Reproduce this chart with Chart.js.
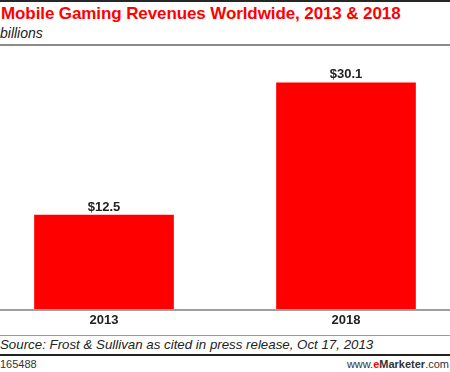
<!DOCTYPE html>
<html>
<head>
<meta charset="utf-8">
<script src="https://cdn.jsdelivr.net/npm/chart.js@4"></script>
<style>
  body { margin: 0; background: #fff; font-family: "Liberation Sans", Arial, sans-serif; }
  #wrap { position: relative; width: 450px; height: 372px; overflow: hidden; background: #fff; }
  .abs { position: absolute; white-space: nowrap; }
  #topRule { left: 0; top: 0; width: 450px; height: 2px; background: #262626; }
  #title { left: 1px; top: 4px; font-size: 17px; font-weight: bold; color: #f00; letter-spacing: -0.1px; }
  #subtitle { left: 0; top: 25px; font-size: 14px; font-style: italic; color: #222; }
  #headRule { left: 0; top: 44px; width: 450px; height: 2px; background: #8c8c8c; }
  #chartBox { left: 0; top: 46px; width: 450px; height: 289px; }
  #srcRule { left: 0; top: 335px; width: 450px; height: 1px; background: #9a9a9a; }
  #source { left: 0; top: 337px; font-size: 13.3px; font-style: italic; color: #222; }
  #footRule { left: 0; top: 354px; width: 450px; height: 2px; background: #222; }
  #code { left: 0; top: 358px; font-size: 11px; color: #333; }
  #brand { right: 1px; top: 358px; font-size: 11px; color: #333; }
  #brand b { color: #333; }
  #brand .e { color: #f00; }
</style>
</head>
<body>
<div id="wrap">
  <div class="abs" id="topRule"></div>
  <div class="abs" id="title">Mobile Gaming Revenues Worldwide, 2013 &amp; 2018</div>
  <div class="abs" id="subtitle">billions</div>
  <div class="abs" id="headRule"></div>
  <div class="abs" id="chartBox"><canvas id="chart" width="450" height="289"></canvas></div>
  <div class="abs" id="srcRule"></div>
  <div class="abs" id="source">Source: Frost &amp; Sullivan as cited in press release, Oct 17, 2013</div>
  <div class="abs" id="footRule"></div>
  <div class="abs" id="code">165488</div>
  <div class="abs" id="brand">www.<b class="e">e</b><b>Marketer</b>.com</div>
</div>
<script>
// Chart data
const years = ['2013', '2018'];
const revenues = [12.5, 30.1];
const valueLabels = ['$12.5', '$30.1'];

// Gray baseline across the whole width + value labels above bars
const barExtras = {
    id: 'barExtras',
    afterDatasetsDraw(chart) {
        const ctx = chart.ctx;
        const y0 = chart.scales.y.getPixelForValue(0);
        ctx.save();
        ctx.fillStyle = '#a0a0a0';
        ctx.fillRect(0, Math.round(y0), chart.width, 2);

        ctx.fillStyle = '#222';
        ctx.font = 'bold 13px "Liberation Sans", Arial, sans-serif';
        ctx.textAlign = 'center';
        ctx.textBaseline = 'middle';
        chart.getDatasetMeta(0).data.forEach((bar, i) => {
            ctx.fillText(valueLabels[i], bar.x, bar.y - 8);
        });
        ctx.restore();
    }
};

new Chart(document.getElementById('chart'), {
    type: 'bar',
    data: {
        labels: years,
        datasets: [{
            data: revenues,
            backgroundColor: '#ff0000',
            borderWidth: 0,
            barThickness: 139,
            clip: false
        }]
    },
    options: {
        responsive: false,
        animation: false,
        layout: { padding: { left: 104, right: 104, top: 0, bottom: 0 } },
        plugins: {
            legend: { display: false },
            tooltip: { enabled: false }
        },
        scales: {
            x: {
                offset: false,
                grid: { display: false, drawTicks: false, tickLength: 0 },
                border: { display: false },
                ticks: {
                    color: '#222',
                    padding: 4,
                    font: { family: '"Liberation Sans", Arial, sans-serif', size: 13, weight: 'bold' }
                },
                afterFit(scale) { scale.height = 26; }
            },
            y: {
                display: false,
                min: 0,
                max: 35
            }
        }
    },
    plugins: [barExtras]
});
</script>
</body>
</html>
